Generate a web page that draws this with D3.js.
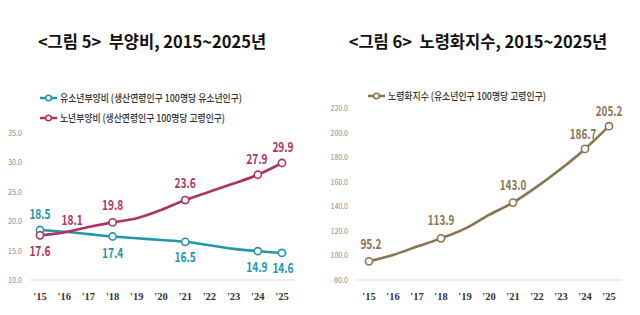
<!DOCTYPE html>
<html><head><meta charset="utf-8">
<script src="https://cdn.jsdelivr.net/npm/d3@7"></script>
<style>
html,body{margin:0;padding:0;background:#fff;}
svg{display:block;font-family:"Noto Sans CJK KR","Noto Sans",sans-serif;}
</style></head>
<body>
<svg id="c" width="640" height="315"></svg>
<script>
const years = ["'15","'16","'17","'18","'19","'20","'21","'22","'23","'24","'25"];
const youthDep = [18.5,18.2,17.8,17.4,17.1,16.8,16.5,15.9,15.3,14.9,14.6];
const oldDep   = [17.6,18.1,19.0,19.8,20.5,21.9,23.6,25.0,26.4,27.9,29.9];
const agingIdx = [95.2,100.4,107.2,113.9,121.8,133.0,143.0,156.0,170.5,186.7,205.2];
const leftTicks = [10,15,20,25,30,35];
const rightTicks = [80,100,120,140,160,180,200,220];
const markerIdx = [0,3,6,9,10];
const titles = ["<그림 5>  부양비, 2015~2025년","<그림 6>  노령화지수, 2015~2025년"];
const legendLeft = [["유소년부양비","(생산연령인구 100명당 유소년인구)"],["노년부양비","(생산연령인구 100명당 고령인구)"]];
const legendRight = [["노령화지수","(유소년인구 100명당 고령인구)"]];

const C_TEAL="#2296a9", C_MAG="#ad3462", C_BRN="#8a7452";
const svg = d3.select("#c");

svg.append("text").attr("x",152).attr("y",48).attr("text-anchor","middle").style("white-space","pre")
  .attr("font-size",16.5).attr("font-weight","bold").attr("fill","#111").text(titles[0]);
svg.append("text").attr("x",478).attr("y",48).attr("text-anchor","middle").style("white-space","pre")
  .attr("font-size",16.5).attr("font-weight","bold").attr("fill","#111").text(titles[1]);

function legend(g, x, y, color, parts, len){
  g.append("line").attr("x1",x).attr("x2",x+17).attr("y1",y).attr("y2",y)
    .attr("stroke",color).attr("stroke-width",2.5);
  g.append("circle").attr("cx",x+8.5).attr("cy",y).attr("r",2.8)
    .attr("fill","#fff").attr("stroke",color).attr("stroke-width",1.5);
  g.append("text").attr("x",x+20).attr("y",y+4).attr("font-size",10.5).attr("font-weight",500).attr("fill","#333")
    .attr("textLength",len).attr("lengthAdjust","spacingAndGlyphs")
    .text(parts[0]+" "+parts[1]);
}

function chart(opts){
  const g = svg.append("g");
  const x = d3.scalePoint().domain(years).range([opts.x0,opts.x1]);
  const y = d3.scaleLinear().domain(opts.domain).range([280,opts.yTop]);
  g.selectAll(".yt").data(opts.ticks).enter().append("text")
    .attr("x",opts.yLabX).attr("y",d=>y(d)+3).attr("text-anchor","end")
    .attr("font-size",7.5).attr("fill","#888")
    .attr("textLength",d=>d.toFixed(1).length*3.5).attr("lengthAdjust","spacingAndGlyphs")
    .text(d=>d.toFixed(1));
  g.append("line").attr("x1",opts.bx0).attr("x2",opts.bx1).attr("y1",y(opts.domain[0])).attr("y2",y(opts.domain[0]))
    .attr("stroke","#ddd").attr("stroke-width",1);
  g.selectAll(".xt").data(years).enter().append("text")
    .attr("x",d=>x(d)).attr("y",300).attr("text-anchor","middle")
    .attr("font-size",10.5).attr("font-weight","bold").attr("fill","#333")
    .attr("font-family","Liberation Serif, serif").text(d=>d);
  opts.series.forEach(s=>{
    const line = d3.line().x((d,i)=>x(years[i])).y(d=>y(d)).curve(d3.curveMonotoneX);
    g.append("path").attr("d",line(s.values)).attr("fill","none")
      .attr("stroke",s.color).attr("stroke-width",2.6);
    g.selectAll(null).data(markerIdx).enter().append("circle")
      .attr("cx",i=>x(years[i])).attr("cy",i=>y(s.values[i])).attr("r",3.6)
      .attr("fill","#fff").attr("stroke",s.color).attr("stroke-width",1.6);
    g.selectAll(null).data(s.labels).enter().append("text")
      .attr("x",d=>x(years[d.i])+(d.dx||0)).attr("y",d=>y(s.values[d.i])+d.dy)
      .attr("text-anchor","middle").attr("font-size",13.5).attr("font-weight","bold")
      .attr("textLength",d=>s.values[d.i].toFixed(1).length*5.3).attr("lengthAdjust","spacingAndGlyphs")
      .attr("fill",s.color).text(d=>s.values[d.i].toFixed(1));
  });
}

chart({x0:40,x1:282,domain:[10,35],yTop:133,ticks:leftTicks,yLabX:22,bx0:30,bx1:295,
  series:[
    {values:youthDep,color:C_TEAL,labels:[{i:0,dy:-11},{i:3,dy:22},{i:6,dy:20},{i:9,dx:-1,dy:21},{i:10,dx:1,dy:20}]},
    {values:oldDep,color:C_MAG,labels:[{i:0,dy:21},{i:1,dx:8,dy:-7},{i:3,dy:-12},{i:6,dy:-12},{i:9,dx:-1,dy:-11},{i:10,dx:1,dy:-11}]}
  ]});
chart({x0:369,x1:609,domain:[80,220],yTop:108,ticks:rightTicks,yLabX:348,bx0:355,bx1:622,
  series:[
    {values:agingIdx,color:C_BRN,labels:[{i:0,dx:2,dy:-12},{i:3,dy:-13},{i:6,dy:-13},{i:9,dx:-2,dy:-10},{i:10,dy:-10}]}
  ]});

const lg = svg.append("g");
legend(lg,40,98,C_TEAL,legendLeft[0],182);
legend(lg,40,118,C_MAG,legendLeft[1],165);
legend(lg,368,96,C_BRN,legendRight[0],158);
</script>
</body></html>
